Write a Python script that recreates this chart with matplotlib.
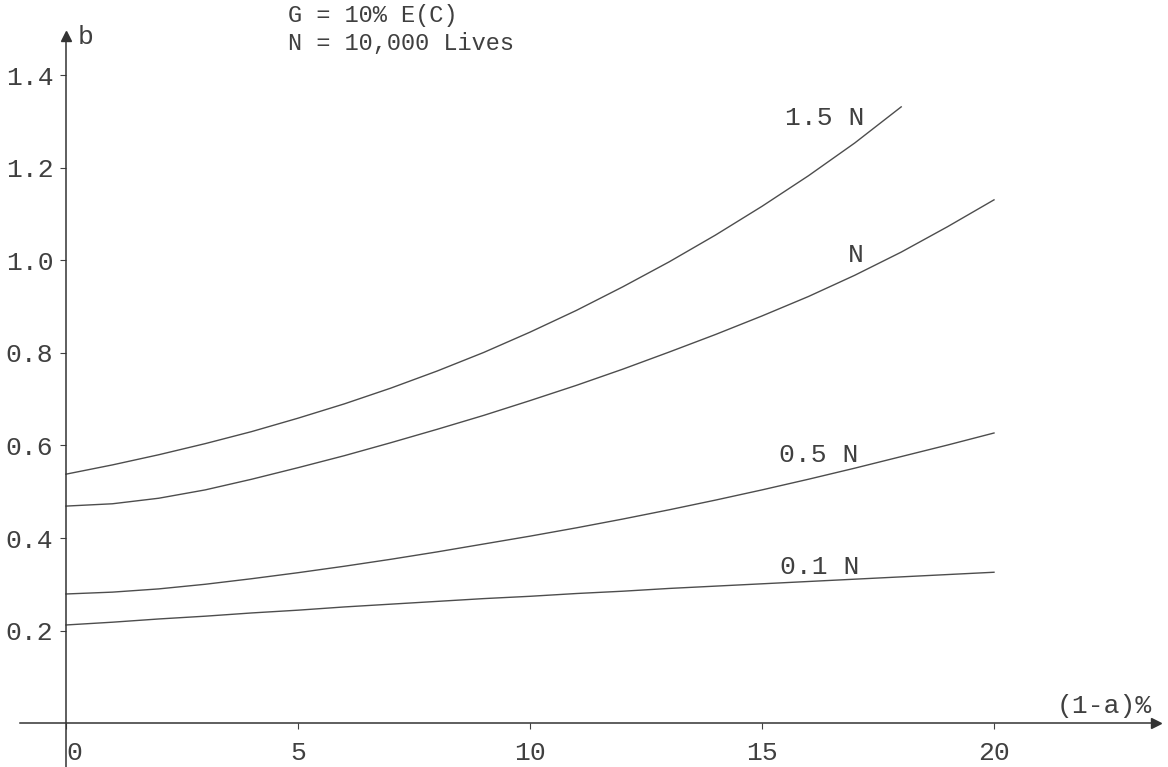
import matplotlib

matplotlib.use("Agg")
import matplotlib.pyplot as plt

# b against (1-a)% for portfolio sizes, G = 10% E(C), N = 10,000 lives
loss_pct = [0, 1, 2, 3, 4, 5, 6, 7, 8, 9, 10, 11, 12, 13, 14, 15, 16, 17, 18, 19, 20]

b_15n = [0.538, 0.558, 0.580, 0.604, 0.630, 0.659, 0.690, 0.724, 0.761, 0.801,
         0.845, 0.892, 0.943, 0.997, 1.055, 1.117, 1.183, 1.254, 1.332]
b_n = [0.469, 0.474, 0.486, 0.504, 0.527, 0.552, 0.578, 0.606, 0.635, 0.665,
       0.697, 0.730, 0.765, 0.802, 0.840, 0.880, 0.922, 0.968, 1.018, 1.073, 1.131]
b_05n = [0.279, 0.283, 0.290, 0.300, 0.312, 0.325, 0.339, 0.354, 0.370, 0.387,
         0.404, 0.422, 0.441, 0.461, 0.482, 0.504, 0.527, 0.551, 0.576, 0.601, 0.627]
b_01n = [0.212, 0.218, 0.225, 0.231, 0.238, 0.244, 0.251, 0.257, 0.263, 0.269,
         0.274, 0.280, 0.285, 0.291, 0.296, 0.301, 0.306, 0.311, 0.316, 0.321, 0.326]

curve_labels = ["1.5 N", "N", "0.5 N", "0.1 N"]
x_ticks = [0, 5, 10, 15, 20]
y_ticks = [0.2, 0.4, 0.6, 0.8, 1.0, 1.2, 1.4]

FONT = "Liberation Mono"
INK = "#404040"
LINE = "#4d4d4d"

plt.rcParams.update({"font.family": FONT, "text.color": INK,
                     "xtick.color": INK, "ytick.color": INK})

fig = plt.figure(figsize=(11.68, 7.67), dpi=100)
ax = fig.add_axes([0, 0, 1, 1])
ax.set_xlim(-1.422, 23.75)
ax.set_ylim(-0.095, 1.563)

for ys in (b_15n, b_n, b_05n, b_01n):
    ax.plot(loss_pct[:len(ys)], ys, color=LINE, lw=1.0)

# axes through the origin, with arrow heads
for s in ("top", "right"):
    ax.spines[s].set_visible(False)
ax.spines["left"].set_position(("data", 0))
ax.spines["bottom"].set_position(("data", 0))
ax.spines["left"].set_bounds(-0.095, 1.485)
ax.spines["bottom"].set_bounds(-1.0, 23.5)
for s in ("left", "bottom"):
    ax.spines[s].set_color("#333333")
    ax.spines[s].set_linewidth(1.1)
ax.plot(0, 1.485, marker="^", ms=7, color="#333333", clip_on=False)
ax.plot(23.5, 0, marker=">", ms=7, color="#333333", clip_on=False)

ax.set_xticks(x_ticks, [str(t) for t in x_ticks])
ax.set_yticks(y_ticks, [f"{t:.1f}" for t in y_ticks])
ax.tick_params(direction="out", length=4, width=0.8, labelsize=19)
ax.tick_params(axis="x", pad=9)
ax.tick_params(axis="y", pad=5)
ax.get_xticklabels()[0].set_horizontalalignment("left")

ax.text(0.26, 1.483, "b", fontsize=19, va="center", ha="left")
ax.text(21.34, 0.037, "(1-a)%", fontsize=19, va="center", ha="left")
ax.text(4.78, 1.529, "G = 10% E(C)", fontsize=17, va="center", ha="left")
ax.text(4.78, 1.468, "N = 10,000 Lives", fontsize=17, va="center", ha="left")

label_pos = [(15.5, 1.308), (16.85, 1.012), (15.37, 0.579), (15.39, 0.337)]
for name, (lx, ly) in zip(curve_labels, label_pos):
    ax.text(lx, ly, name, fontsize=19, va="center", ha="left")

fig.savefig("out.png", dpi=100)
